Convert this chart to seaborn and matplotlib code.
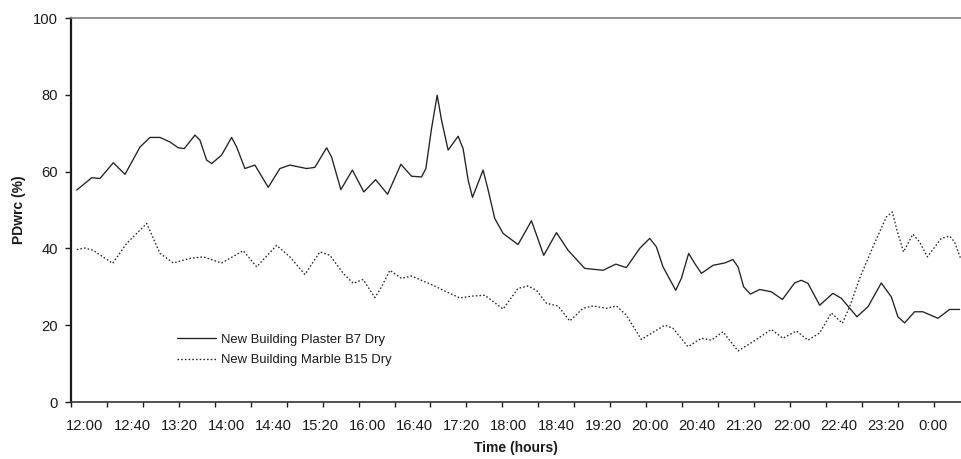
import numpy as np
import pandas as pd
import matplotlib
matplotlib.use("Agg")
import matplotlib.pyplot as plt
import seaborn as sns

# ---- data (minutes after 12:00, PDwrc %) ----
plaster_min = [-7.0, 5.7, 12.7, 24.0, 34.0, 46.7, 55.2, 63.7, 72.2, 79.2, 84.3, 93.4, 97.6,
               103.3, 107.6, 116.0, 124.5, 128.8, 135.8, 144.3, 155.6, 165.5, 174.0, 188.2,
               195.2, 205.2, 209.4, 217.3, 227.1, 236.8, 246.8, 257.0, 268.3, 277.3, 285.8,
               289.5, 294.3, 299.1, 302.8, 308.4, 316.9, 321.1, 325.4, 329.1, 338.1, 342.4,
               348.0, 355.1, 367.8, 379.2, 389.6, 400.4, 410.3, 424.4, 440.0, 450.8, 459.8,
               471.1, 479.6, 485.3, 490.9, 501.7, 506.5, 512.7, 517.8, 523.5, 533.4, 543.3,
               550.3, 554.6, 559.4, 565.1, 573.0, 582.9, 592.3, 602.7, 608.4, 614.0, 624.0,
               635.2, 642.4, 655.6, 665.0, 676.3, 684.8, 690.4, 696.1, 704.6, 711.6, 724.4,
               734.3, 742.8]
plaster_val = [55.2, 58.4, 58.2, 62.3, 59.3, 66.4, 68.9, 68.9, 67.7, 66.2, 66.0, 69.5, 68.2,
               63.0, 62.1, 64.3, 68.9, 66.4, 60.8, 61.7, 55.9, 60.8, 61.7, 60.8,
               61.1, 66.2, 63.8, 55.3, 60.4, 54.7, 57.9, 54.1, 61.9, 58.8, 58.6,
               60.8, 71.2, 79.9, 73.4, 65.6, 69.2, 66.0, 57.8, 53.3, 60.4, 55.2,
               47.8, 43.9, 41.0, 47.2, 38.2, 44.1, 39.5, 34.8, 34.3, 35.9, 35.0,
               40.0, 42.6, 40.4, 35.2, 29.1, 32.2, 38.7, 36.1, 33.5, 35.6, 36.2,
               37.1, 35.2, 30.0, 28.1, 29.3, 28.7, 26.7, 31.0, 31.7, 30.9, 25.2,
               28.3, 27.0, 22.2, 24.8, 31.0, 27.4, 22.2, 20.6, 23.5, 23.5, 21.8,
               24.1, 24.1]

marble_min = [-7.0, 0.0, 7.0, 23.5, 35.4, 52.4, 63.7, 75.0, 89.1, 100.4, 116.0, 134.4, 145.8,
              162.7, 174.0, 186.8, 199.5, 208.0, 219.3, 227.8, 236.2, 246.2, 251.9, 258.9,
              268.8, 277.3, 295.7, 304.2, 318.3, 329.6, 339.6, 355.1, 367.8, 376.3, 383.4,
              391.9, 401.8, 411.7, 423.0, 431.5, 442.9, 451.4, 459.8, 472.5, 492.4, 499.4,
              512.1, 523.5, 532.0, 541.8, 554.6, 567.3, 582.9, 592.8, 604.2, 614.0, 624.0,
              633.9, 643.2, 649.4, 657.9, 669.2, 680.6, 685.7, 689.6, 695.2, 703.1, 708.8,
              715.4, 727.3, 734.3, 738.5, 743.4]
marble_val = [39.7, 40.1, 39.5, 36.1, 41.3, 46.5, 38.7, 36.2, 37.4, 37.8, 36.2, 39.4, 35.2,
              40.8, 37.8, 33.2, 39.1, 38.2, 33.5, 30.9, 31.9, 27.2, 30.0, 34.3,
              32.2, 32.8, 30.4, 29.1, 27.1, 27.6, 27.8, 24.2, 29.6, 30.2, 29.1,
              25.7, 25.0, 21.1, 24.4, 25.0, 24.4, 25.0, 22.6, 16.3, 20.0, 19.2,
              14.4, 16.6, 16.1, 18.3, 13.3, 15.7, 18.9, 16.6, 18.5, 16.1, 18.0,
              23.2, 20.5, 24.8, 32.2, 40.4, 48.2, 49.5, 44.7, 39.1, 43.7, 41.7,
              37.8, 42.6, 43.2, 41.7, 37.6]

series_names = ["New Building Plaster B7 Dry", "New Building Marble B15 Dry"]
tick_minutes = [0, 40, 80, 120, 160, 200, 240, 280, 320, 360, 400, 440, 480, 520, 560, 600, 640, 680, 720]
tick_labels = ["12:00", "12:40", "13:20", "14:00", "14:40", "15:20", "16:00", "16:40", "17:20",
               "18:00", "18:40", "19:20", "20:00", "20:40", "21:20", "22:00", "22:40", "23:20", "0:00"]

df = pd.concat([
    pd.DataFrame({"t": plaster_min, "v": plaster_val, "s": series_names[0]}),
    pd.DataFrame({"t": marble_min, "v": marble_val, "s": series_names[1]}),
], ignore_index=True)

sns.set_theme(style="white")
plt.rcParams["font.family"] = ["Liberation Sans", "DejaVu Sans"]

fig = plt.figure(figsize=(9.61, 4.59), dpi=100)
ax = fig.add_axes([71 / 961, 1 - 402 / 459, 890 / 961, 384 / 459])

sns.lineplot(data=df, x="t", y="v", hue="s", style="s", sort=False, estimator=None,
             palette={series_names[0]: "#222222", series_names[1]: "#222222"},
             dashes={series_names[0]: "", series_names[1]: (1.2, 1.6)},
             linewidth=0.95, legend=False, ax=ax)
for ln in ax.get_lines():
    ln.set_solid_joinstyle("round")

ax.set_xlim(-11.9, 744)
ax.set_ylim(0, 100)

# y axis
ax.set_yticks([0, 20, 40, 60, 80, 100])
ax.tick_params(axis="y", which="major", direction="out", length=4.3, width=1.0,
               color="#1a1a1a", labelsize=10.6, pad=5, left=True, labelcolor="#1a1a1a")
ax.yaxis.get_major_ticks()[-1].tick1line.set_color("#808080")

# x axis: labels every 40 min, tick marks separately (Excel-like)
ax.set_xticks(tick_minutes)
ax.set_xticklabels(tick_labels)
ax.tick_params(axis="x", which="major", length=0, labelsize=10.6, pad=12, labelcolor="#1a1a1a")
minor_pos = [-11.9 + 30.53 * i for i in range(25)]
ax.set_xticks(minor_pos, minor=True)
ax.tick_params(axis="x", which="minor", direction="out", length=3.6, width=1.0,
               color="#1a1a1a", bottom=True)

ax.spines["right"].set_visible(False)
ax.spines["left"].set_color("#1a1a1a")
ax.spines["left"].set_linewidth(1.6)
ax.spines["bottom"].set_color("#333333")
ax.spines["bottom"].set_linewidth(1.2)
ax.spines["top"].set_color("#808080")
ax.spines["top"].set_linewidth(1.2)

ax.set_xlabel("Time (hours)", fontsize=10, fontweight="bold", labelpad=6, color="#1a1a1a")
ax.set_ylabel("PDwrc (%)", fontsize=10, fontweight="bold", labelpad=5, color="#1a1a1a")

handles = ax.get_lines()[:2]
leg = ax.legend(handles, series_names, loc="center left",
                bbox_to_anchor=((177 - 71) / 890, (402 - 350) / 384),
                frameon=False, fontsize=9.4, handlelength=3.0, handletextpad=0.35,
                borderpad=0, borderaxespad=0, labelspacing=0.65)
for t in leg.get_texts():
    t.set_color("#1a1a1a")

fig.savefig("out.png", dpi=100)
